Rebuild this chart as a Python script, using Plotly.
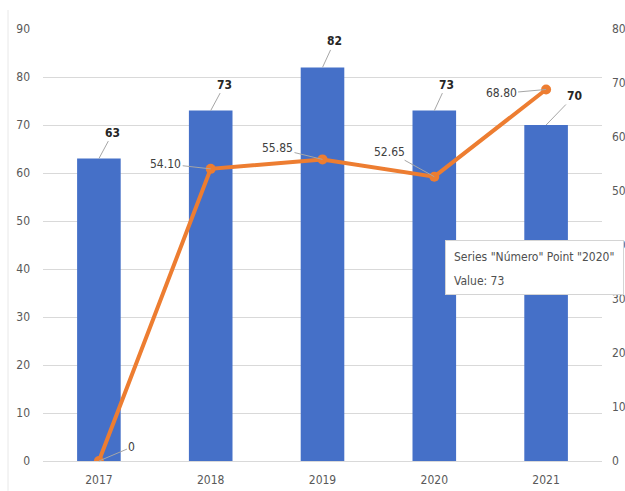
import plotly.graph_objects as go

years = ["2017", "2018", "2019", "2020", "2021"]
numero = [63, 73, 82, 73, 70]
linea = [0, 54.10, 55.85, 52.65, 68.80]
linea_labels = ["0", "54.10", "55.85", "52.65", "68.80"]
tooltip_lines = ['Series "Número" Point "2020"', "Value: 73"]

FONT = "DejaVu Sans Condensed, Liberation Sans Narrow, sans-serif"

fig = go.Figure()
fig.add_trace(go.Bar(
    x=years, y=numero, name="Número",
    marker=dict(color="#4570c8", line=dict(width=0)),
    width=0.39, yaxis="y",
))
fig.add_trace(go.Scatter(
    x=years, y=linea, name="Serie 2", mode="lines+markers",
    line=dict(color="#ED7D31", width=4),
    marker=dict(color="#ED7D31", size=10),
    yaxis="y2",
))

annotations = []
bar_offsets = [(14, -26), (14, -26), (12, -26), (12, -26), (28, -29)]
for i, (v, (ax, ay)) in enumerate(zip(numero, bar_offsets)):
    annotations.append(dict(
        x=i, y=v, xref="x", yref="y", text=str(v), showarrow=True,
        arrowhead=0, arrowwidth=1, arrowcolor="#a6a6a6", ax=ax, ay=ay,
        font=dict(family=FONT, size=12, color="#262626", weight="bold"),
    ))
line_offsets = [(33, -14), (-45, -5), (-45, -11), (-45, -25), (-45, 4)]
for i, (v, lab, (ax, ay)) in enumerate(zip(linea, linea_labels, line_offsets)):
    annotations.append(dict(
        x=i, y=v, xref="x", yref="y2", text=lab, showarrow=True,
        arrowhead=0, arrowwidth=1, arrowcolor="#a6a6a6", ax=ax, ay=ay,
        font=dict(family=FONT, size=12, color="#404040"),
    ))
# tooltip box (as in the screenshot) + its two lines
annotations.append(dict(
    xref="paper", yref="paper", x=0.7191, y=0.5116, xanchor="left", yanchor="top",
    text=" ", showarrow=False, width=177, height=53,
    bgcolor="white", bordercolor="#d4d4d4", borderwidth=1, borderpad=0,
))
for txt, yp in zip(tooltip_lines, [0.4722, 0.4167]):
    annotations.append(dict(
        xref="paper", yref="paper", x=0.7317, y=yp, xanchor="left", yanchor="middle",
        text=txt, showarrow=False, align="left",
        font=dict(family=FONT, size=12, color="#505050"),
    ))

fig.update_layout(
    width=625, height=491,
    margin=dict(l=43, r=23, t=29, b=30, autoexpand=False),
    paper_bgcolor="white", plot_bgcolor="white",
    showlegend=False,
    font=dict(family=FONT, size=12, color="#595959"),
    bargap=0.61,
    xaxis=dict(type="category", range=[-0.5, 4.5], showgrid=False, showline=False, ticks="",
               ticklabelstandoff=10, tickfont=dict(size=12, color="#595959")),
    yaxis=dict(range=[0, 90], dtick=10, showgrid=True, gridcolor="#d9d9d9", gridwidth=1,
               zeroline=True, zerolinecolor="#d9d9d9", zerolinewidth=1,
               ticks="", ticklabelstandoff=12, tickfont=dict(size=12, color="#595959")),
    yaxis2=dict(range=[0, 80], dtick=10, overlaying="y", side="right", showgrid=False,
                zeroline=False, ticks="", ticklabelstandoff=9,
                tickfont=dict(size=12, color="#595959")),
    annotations=annotations,
    shapes=[dict(type="line", xref="paper", yref="paper", x0=-0.0626, x1=-0.0626,
                 y0=-0.069, y1=1.044, line=dict(color="#e8e8e8", width=1))],
    hovermode=False,
)

fig.write_html(
    "out.html",
    config={"displayModeBar": False},
    post_script="document.body.style.margin='0';document.body.style.overflow='hidden';",
)
